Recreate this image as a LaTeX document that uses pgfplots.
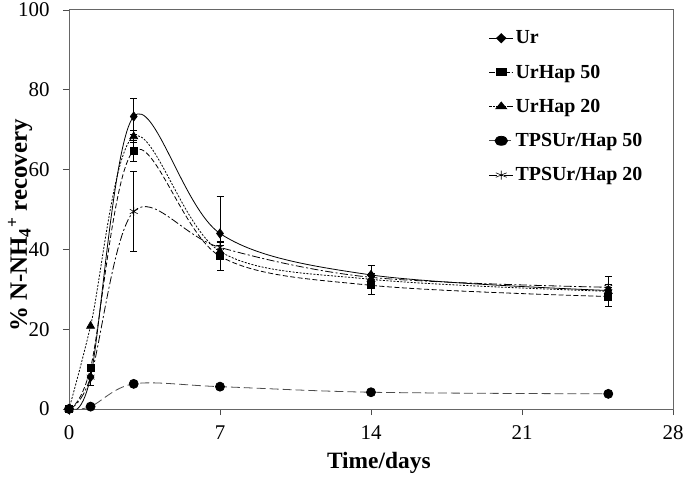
\documentclass[border=0pt]{standalone}
\usepackage{fontspec}
\setmainfont{Liberation Serif}
\usepackage{pgfplots}
\pgfplotsset{compat=1.18}
\newcommand\fs{\fontsize{21}{25}\selectfont}

\begin{document}
\begin{tikzpicture}
\path[use as bounding box] (-69bp,-76bp) rectangle (616bp,409bp);
\begin{axis}[
    at={(0,0)}, anchor=south west,
    scale only axis,
    width=604bp, height=399bp,
    xmin=0, xmax=28, ymin=0, ymax=100,
    xtick={0,7,...,28}, ytick={0,20,...,100},
    xtick pos=bottom, ytick pos=left,
    tick align=outside,
    major tick length=6bp,
    axis line style={draw=black!60, line width=1pt},
    tick style={black!70, line width=0.8pt},
    /pgf/number format/assume math mode=true,
    tick label style={font=\fs},
    xticklabel style={yshift=-7bp},
    yticklabel style={xshift=-10bp},
    xlabel={\textbf{Time/days}},
    ylabel={\textbf{\% N-NH\textsubscript{4}\textsuperscript{+} recovery}},
    xlabel style={font=\fontsize{23.5}{27}\selectfont, at={(axis description cs:0.513,-0.135)}, anchor=center},
    ylabel style={font=\fontsize{25}{29}\selectfont, at={(axis description cs:-0.081,0.46)}, anchor=center},
    legend style={draw=none, fill=none, at={(0.69,0.958)}, anchor=north west,
        font=\fontsize{20}{24}\selectfont\bfseries, row sep=15.5bp},
    legend cell align=left,
    legend image post style={xscale=1.4},
    error bars/error bar style={solid, black, line width=0.6pt},
    error bars/error mark options={rotate=90, mark size=3.5bp, solid, black, line width=0.6pt},
]
% Ur
\addplot[black, line width=0.8pt, solid, smooth, tension=0.55, mark=diamond*, mark size=4.5bp, mark options={solid, fill=black},
    error bars/.cd, y dir=both, y explicit]
    coordinates {(0,0) +- (0,0) (1,8) +- (0,0) (3,73.3) +- (0,4.5) (7,44) +- (0,9.3) (14,33.6) +- (0,2.5) (25,29.7) +- (0,1.5)};
% UrHap 50
\addplot[black, line width=0.8pt, dash pattern=on 5pt off 2.5pt, smooth, tension=0.55, mark=square*, mark size=3.5bp, mark options={solid, fill=black},
    error bars/.cd, y dir=both, y explicit]
    coordinates {(0,0) +- (0,0) (1,10.3) +- (0,0) (3,64.7) +- (0,2.7) (7,38.3) +- (0,3.5) (14,31) +- (0,2.2) (25,28.2) +- (0,2.4)};
% UrHap 20
\addplot[black, line width=0.8pt, dash pattern=on 2pt off 1.5pt, smooth, tension=0.55, mark=triangle*, mark size=4.5bp, mark options={solid, fill=black},
    error bars/.cd, y dir=both, y explicit]
    coordinates {(0,0) +- (0,0) (1,20.8) +- (0,0) (3,68.3) +- (0,1.5) (7,39.5) +- (0,1.5) (14,32.5) +- (0,1) (25,29.5) +- (0,1)};
% TPSUr/Hap 50
\addplot[black!70, line width=0.8pt, dash pattern=on 9pt off 4pt, smooth, tension=0.55, mark=*, mark size=4.5bp, mark options={solid, fill=black, draw=black}]
    coordinates {(0,0) (1,0.6) (3,6.3) (7,5.6) (14,4.2) (25,3.8)};
% TPSUr/Hap 20
\addplot[black, line width=0.8pt, dash pattern=on 8pt off 2.5pt on 2pt off 2.5pt, smooth, tension=0.55, mark=asterisk, mark size=4.5bp, mark options={solid, line width=0.6pt},
    error bars/.cd, y dir=both, y explicit]
    coordinates {(0,0) +- (0,0) (1,8) +- (0,2) (3,49.5) +- (0,10) (7,40.5) +- (0,1.5) (14,33) +- (0,1) (25,30.5) +- (0,2.7)};
\legend{Ur, UrHap 50, UrHap 20, TPSUr/Hap 50, TPSUr/Hap 20}
\end{axis}
\end{tikzpicture}
\end{document}
